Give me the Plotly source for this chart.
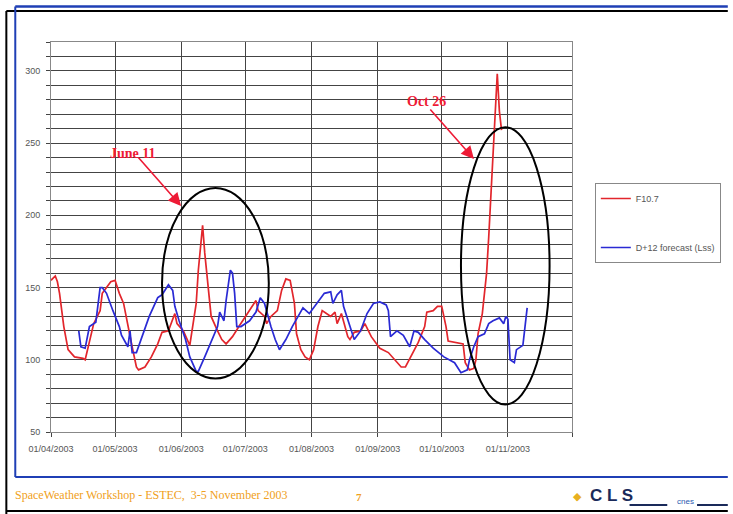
import plotly.graph_objects as go

# ---------------- data ----------------
f107_dates = [
    "2003-04-01", "2003-04-03", "2003-04-04", "2003-04-05", "2003-04-07", "2003-04-09",
    "2003-04-12", "2003-04-16", "2003-04-17", "2003-04-19", "2003-04-21", "2003-04-24",
    "2003-04-25", "2003-04-27", "2003-04-29", "2003-05-01", "2003-05-03", "2003-05-05",
    "2003-05-07", "2003-05-09", "2003-05-11", "2003-05-12", "2003-05-15", "2003-05-18",
    "2003-05-21", "2003-05-23", "2003-05-26", "2003-05-29", "2003-05-30", "2003-06-02",
    "2003-06-05", "2003-06-08", "2003-06-09", "2003-06-10", "2003-06-11", "2003-06-12",
    "2003-06-14", "2003-06-15", "2003-06-18", "2003-06-20", "2003-06-22", "2003-06-25",
    "2003-06-28", "2003-07-01", "2003-07-04", "2003-07-06", "2003-07-07", "2003-07-10",
    "2003-07-11", "2003-07-13", "2003-07-16", "2003-07-18", "2003-07-20", "2003-07-22",
    "2003-07-24", "2003-07-25", "2003-07-27", "2003-07-29", "2003-07-31", "2003-08-02",
    "2003-08-04", "2003-08-06", "2003-08-08", "2003-08-10", "2003-08-12", "2003-08-13",
    "2003-08-15", "2003-08-16", "2003-08-18", "2003-08-19", "2003-08-21", "2003-08-24",
    "2003-08-26", "2003-08-29", "2003-08-31", "2003-09-02", "2003-09-06", "2003-09-09",
    "2003-09-12", "2003-09-14", "2003-09-16", "2003-09-20", "2003-09-23", "2003-09-24",
    "2003-09-27", "2003-09-29", "2003-10-01", "2003-10-03", "2003-10-04", "2003-10-07",
    "2003-10-11", "2003-10-12", "2003-10-14", "2003-10-16", "2003-10-17", "2003-10-18",
    "2003-10-19", "2003-10-20", "2003-10-21", "2003-10-22", "2003-10-23", "2003-10-24",
    "2003-10-25", "2003-10-26", "2003-10-27", "2003-10-28", "2003-10-29",
]
f107_values = [
    155, 158, 154, 146, 123, 107,
    102, 101, 100, 113, 125, 134,
    146, 150, 154, 155, 146, 139,
    123, 109, 95, 93, 95, 102,
    111, 119, 120, 132, 125, 120,
    110, 139, 162, 180, 193, 174,
    146, 130, 120, 114, 111, 116,
    123, 130, 137, 141, 134, 130,
    125, 130, 134, 148, 156, 155,
    139, 118, 107, 102, 100, 107,
    123, 134, 132, 130, 133, 125,
    132, 126, 116, 114, 119, 120,
    125, 116, 112, 108, 105, 100,
    95, 95, 101, 112, 123, 133,
    134, 137, 137, 123, 113, 112,
    111, 98, 93, 94, 100, 118,
    125, 132, 146, 160, 185, 212,
    240, 275, 298, 272, 259,
]

fcst_dates = [
    "2003-04-14", "2003-04-15", "2003-04-17", "2003-04-19", "2003-04-22", "2003-04-24",
    "2003-04-25", "2003-04-27", "2003-04-30", "2003-05-03", "2003-05-04", "2003-05-07",
    "2003-05-08", "2003-05-09", "2003-05-11", "2003-05-14", "2003-05-17", "2003-05-21",
    "2003-05-23", "2003-05-26", "2003-05-28", "2003-05-29", "2003-05-31", "2003-06-03",
    "2003-06-05", "2003-06-08", "2003-06-09", "2003-06-12", "2003-06-15", "2003-06-18",
    "2003-06-19", "2003-06-21", "2003-06-22", "2003-06-24", "2003-06-25", "2003-06-26",
    "2003-06-27", "2003-06-29", "2003-07-03", "2003-07-06", "2003-07-08", "2003-07-10",
    "2003-07-13", "2003-07-15", "2003-07-17", "2003-07-20", "2003-07-23", "2003-07-26",
    "2003-07-28", "2003-07-31", "2003-08-04", "2003-08-07", "2003-08-10", "2003-08-11",
    "2003-08-13", "2003-08-15", "2003-08-16", "2003-08-19", "2003-08-21", "2003-08-24",
    "2003-08-27", "2003-08-30", "2003-09-02", "2003-09-05", "2003-09-06", "2003-09-07",
    "2003-09-10", "2003-09-13", "2003-09-16", "2003-09-18", "2003-09-20", "2003-09-23",
    "2003-09-27", "2003-10-02", "2003-10-07", "2003-10-10", "2003-10-13", "2003-10-14",
    "2003-10-15", "2003-10-16", "2003-10-18", "2003-10-21", "2003-10-23", "2003-10-25",
    "2003-10-28", "2003-10-30", "2003-10-31", "2003-11-01", "2003-11-02", "2003-11-04",
    "2003-11-05", "2003-11-08", "2003-11-09", "2003-11-10",
]
fcst_values = [
    120, 109, 108, 123, 126, 150,
    150, 146, 134, 123, 117, 109,
    120, 105, 105, 118, 130, 143,
    145, 152, 148, 137, 127, 114,
    102, 92, 92, 102, 112, 123,
    133, 127, 141, 162, 160, 146,
    123, 123, 127, 133, 143, 139,
    123, 114, 107, 114, 123, 131,
    136, 132, 140, 146, 147, 139,
    145, 148, 137, 123, 114, 120,
    132, 139, 140, 138, 134, 116,
    120, 117, 109, 120, 119, 114,
    108, 102, 98, 91, 93, 100,
    105, 109, 116, 118, 125, 127,
    129, 125, 130, 128, 100, 98,
    107, 110, 123, 136,
]

month_ticks = ["2003-04-01", "2003-05-01", "2003-06-01", "2003-07-01",
               "2003-08-01", "2003-09-01", "2003-10-01", "2003-11-01", "2003-12-01"]
month_labels = ["01/04/2003", "01/05/2003", "01/06/2003", "01/07/2003",
                "01/08/2003", "01/09/2003", "01/10/2003", "01/11/2003", ""]
y_ticks = list(range(50, 321, 10))
y_labels = [str(v) if v % 50 == 0 else "" for v in y_ticks]

series_names = ["F10.7", "D+12 forecast (Lss)"]

# ---------------- figure ----------------
W, H = 733, 514
L, R, T, B = 51, 576, 42, 432


def px(xp):
    return (xp - L) / (R - L)


def py(yp):
    return (B - yp) / (B - T)


fig = go.Figure()
fig.add_trace(go.Scatter(x=f107_dates, y=f107_values, mode="lines", name=series_names[0],
                         legendgroup="a",
                         line=dict(color="#e2262c", width=1.7)))
fig.add_trace(go.Scatter(x=fcst_dates, y=fcst_values, mode="lines", name=series_names[1],
                         legendgroup="b",
                         line=dict(color="#2a2ad4", width=1.7)))

grid_col = "#444"
fig.update_xaxes(type="date", range=["2003-04-01", "2003-12-01"],
                 tickmode="array", tickvals=month_ticks, ticktext=month_labels,
                 showgrid=True, gridcolor=grid_col, gridwidth=1,
                 ticks="outside", ticklen=4, tickcolor=grid_col, ticklabelstandoff=4,
                 tickfont=dict(family="Liberation Sans", size=9, color="#555"),
                 showline=True, linecolor="#888", linewidth=1, mirror=True,
                 zeroline=False)
fig.update_yaxes(range=[50, 320], tickmode="array", tickvals=y_ticks, ticktext=y_labels,
                 showgrid=True, gridcolor=grid_col, gridwidth=1,
                 ticks="outside", ticklen=4, tickcolor=grid_col, ticklabelstandoff=4,
                 tickfont=dict(family="Liberation Sans", size=9, color="#555"),
                 showline=True, linecolor="#888", linewidth=1, mirror=True,
                 zeroline=False)

shapes = [
    # highlighted periods
    dict(type="circle", xref="x", yref="y", x0="2003-05-23", x1="2003-07-12",
         y0=87, y1=219, line=dict(color="black", width=2)),
    dict(type="circle", xref="x", yref="y", x0="2003-10-10", x1="2003-11-20 12:00",
         y0=69, y1=261, line=dict(color="black", width=2)),
]
# slide frame
frame = [
    (15, 6.5, W, 6.5, "#1f3fb5", 2.5),
    (6, 11, W, 11, "black", 2),
    (6, 11, 6, H, "black", 2),
    (15, 6.5, 15, 477, "#1f3fb5", 2),
    (15, 477, W, 477, "#1f3fb5", 2),
    (6, 511, W, 511, "black", 2),
]
for x0, y0, x1, y1, c, w in frame:
    shapes.append(dict(type="line", xref="paper", yref="paper",
                       x0=px(x0), y0=py(y0), x1=px(x1), y1=py(y1),
                       line=dict(color=c, width=w)))
# logo underline pieces
for x0, x1 in [(634, 672), (702, 733)]:
    shapes.append(dict(type="line", xref="paper", yref="paper",
                       x0=px(x0), y0=py(505), x1=px(x1), y1=py(505),
                       line=dict(color="#1a2a5a", width=2)))


def note(text, x, y, size, color, family="Liberation Serif", xanchor="center"):
    return dict(text=text, xref="paper", yref="paper", x=px(x), y=py(y),
                xanchor=xanchor, yanchor="middle", showarrow=False,
                font=dict(family=family, size=size, color=color))


annotations = [
    note("<b>June 11</b>", 134, 153, 14, "#ee1a35"),
    dict(text="", xref="x", yref="y", x="2003-05-31 22:00", y=206.5,
         ax=-44, ay=-50, showarrow=True, arrowhead=2, arrowsize=1.6, arrowwidth=1.6,
         arrowcolor="#ee1a35"),
    note("<b>Oct 26</b>", 429, 101, 14, "#ee1a35"),
    dict(text="", xref="x", yref="y", x="2003-10-16 02:00", y=239,
         ax=-45, ay=-51, showarrow=True, arrowhead=2, arrowsize=1.6, arrowwidth=1.6,
         arrowcolor="#ee1a35"),
    note("SpaceWeather Workshop - ESTEC,  3-5 November 2003", 13, 495, 12, "#f0a020",
         xanchor="left"),
    note("<b>7</b>", 361, 497, 11, "#f0a020"),
    note("<b>◆</b>", 582, 496, 11, "#e8b020", family="DejaVu Sans"),
    note("<b>C L S</b>", 592, 495, 17, "#1a2a5a", family="Liberation Sans", xanchor="left"),
    note("cnes", 690, 501, 8, "#2a5ab0", family="Liberation Sans"),
]

fig.update_layout(
    width=W, height=H,
    margin=dict(l=L, r=W - R, t=T, b=H - B),
    paper_bgcolor="white", plot_bgcolor="white",
    shapes=shapes, annotations=annotations,
    legend=dict(x=px(599), y=py(183), xanchor="left", yanchor="top",
                bordercolor="#888", borderwidth=1, bgcolor="white",
                font=dict(family="Liberation Sans", size=9, color="#555"),
                itemwidth=30, tracegroupgap=30),
    showlegend=True,
)

fig.write_html("out.html", config={"displayModeBar": False},
               post_script="document.body.style.margin='0';")
